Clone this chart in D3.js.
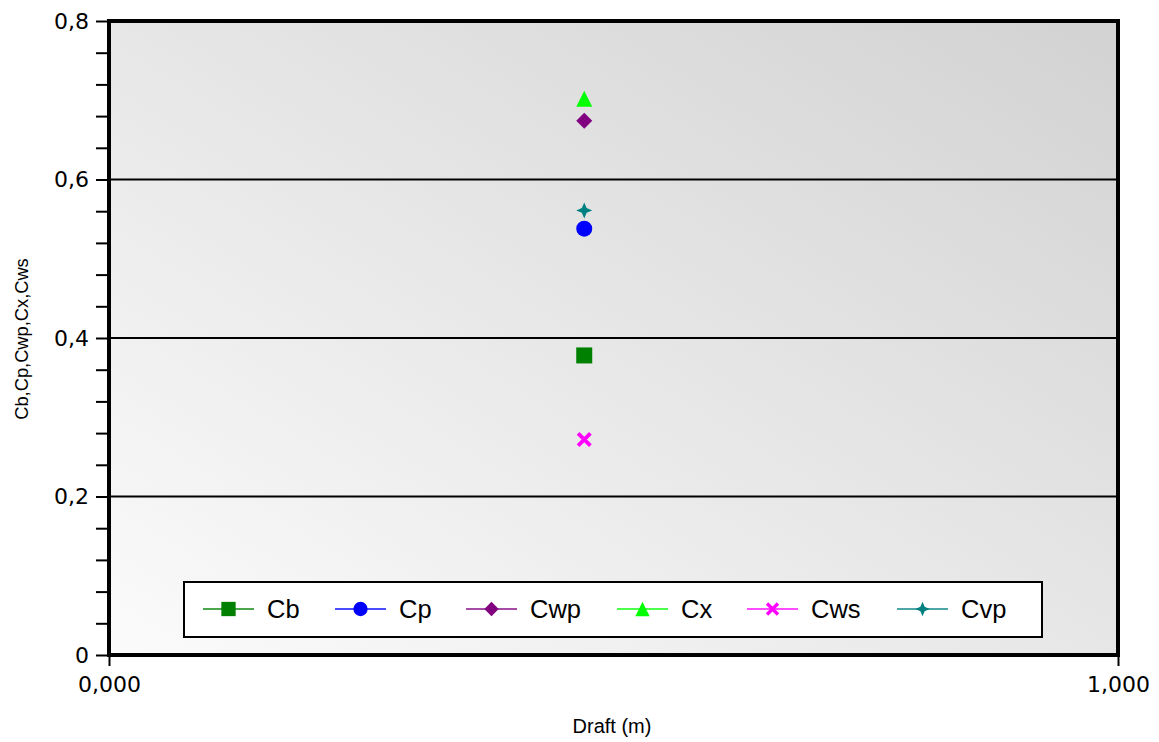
<!DOCTYPE html>
<html>
<head>
<meta charset="utf-8">
<script src="https://cdn.jsdelivr.net/npm/d3@7"></script>
<style>
  html, body { margin: 0; padding: 0; background: #ffffff; }
  svg { display: block; }
</style>
</head>
<body>
<svg id="chart" width="1159" height="742"></svg>
<script>
// Hull form coefficients at a single draft
const seriesNames = ["Cb", "Cp", "Cwp", "Cx", "Cws", "Cvp"];
const seriesColors = ["#008000", "#0000ff", "#800080", "#00ff00", "#ff00ff", "#008080"];
const draftValues = [0.471];
const cbValues  = [0.378];
const cpValues  = [0.538];
const cwpValues = [0.674];
const cxValues  = [0.702];
const cwsValues = [0.272];
const cvpValues = [0.561];
const yTickValues = [0, 0.2, 0.4, 0.6, 0.8];
const yTickLabels = ["0", "0,2", "0,4", "0,6", "0,8"];
const xTickValues = [0, 1];
const xTickLabels = ["0,000", "1,000"];
const xTitle = "Draft (m)";
const yTitle = "Cb,Cp,Cwp,Cx,Cws";

const seriesValues = [cbValues, cpValues, cwpValues, cxValues, cwsValues, cvpValues];

// Custom marker shapes
const diamondShape = { draw(ctx, size) { const r = Math.sqrt(size) / 2; ctx.moveTo(0, -r); ctx.lineTo(r, 0); ctx.lineTo(0, r); ctx.lineTo(-r, 0); ctx.closePath(); } };
const triangleShape = { draw(ctx, size) { const r = Math.sqrt(size) / 2; ctx.moveTo(0, -r); ctx.lineTo(r, r); ctx.lineTo(-r, r); ctx.closePath(); } };
const xShape = { draw(ctx, size) {
  const r = Math.sqrt(size) / 2, w = r * 0.36;
  const pts = [[-r + w, -r], [0, -w], [r - w, -r], [r, -r + w], [w, 0], [r, r - w], [r - w, r], [0, w], [-r + w, r], [-r, r - w], [-w, 0], [-r, -r + w]];
  ctx.moveTo(pts[0][0], pts[0][1]); for (let i = 1; i < pts.length; i++) ctx.lineTo(pts[i][0], pts[i][1]); ctx.closePath();
} };
const starShape = { draw(ctx, size) {
  const r = Math.sqrt(size) / 2, k = r * 0.3;
  ctx.moveTo(0, -r); ctx.lineTo(k, -k); ctx.lineTo(r, 0); ctx.lineTo(k, k); ctx.lineTo(0, r); ctx.lineTo(-k, k); ctx.lineTo(-r, 0); ctx.lineTo(-k, -k); ctx.closePath();
} };
const squareShape = { draw(ctx, size) { const r = Math.sqrt(size) / 2; ctx.rect(-r, -r, 2 * r, 2 * r); } };
const circleShape = { draw(ctx, size) { const r = Math.sqrt(size) / 2; ctx.moveTo(r, 0); ctx.arc(0, 0, r, 0, 2 * Math.PI); } };
const shapes = [squareShape, circleShape, diamondShape, triangleShape, xShape, starShape];
const markerSizes = [256, 256, 256, 256, 225, 256];

const svg = d3.select("#chart");
const plot = { left: 109, right: 1118, top: 21, bottom: 655 };

const x = d3.scaleLinear().domain([0, 1]).range([plot.left, plot.right]);
const y = d3.scaleLinear().domain([0, 0.8]).range([plot.bottom, plot.top]);

// Background gradient
const defs = svg.append("defs");
const grad = defs.append("linearGradient").attr("id", "bg")
  .attr("x1", "0%").attr("y1", "100%").attr("x2", "100%").attr("y2", "0%");
grad.append("stop").attr("offset", "0%").attr("stop-color", "#fbfbfb");
grad.append("stop").attr("offset", "100%").attr("stop-color", "#d2d2d2");

svg.append("rect")
  .attr("x", plot.left).attr("y", plot.top)
  .attr("width", plot.right - plot.left).attr("height", plot.bottom - plot.top)
  .attr("fill", "url(#bg)");

// Horizontal grid lines
svg.append("g").selectAll("line")
  .data(yTickValues.filter(v => v > 0 && v < 0.8))
  .join("line")
  .attr("x1", plot.left).attr("x2", plot.right)
  .attr("y1", d => y(d)).attr("y2", d => y(d))
  .attr("stroke", "#000").attr("stroke-width", 2);

// Y axis: major labels + minor ticks
const yMinor = d3.range(0, 0.8001, 0.04);
const yAxis = d3.axisLeft(y).tickValues(yMinor).tickSize(12)
  .tickFormat(d => {
    const i = yTickValues.findIndex(v => Math.abs(v - d) < 1e-6);
    return i >= 0 ? yTickLabels[i] : "";
  });
const gy = svg.append("g").attr("transform", `translate(${plot.left - 1},0)`).call(yAxis);
gy.select(".domain").remove();
gy.selectAll(".tick line").attr("stroke", "#000").attr("stroke-width", 2);
gy.selectAll(".tick text")
  .attr("x", -19)
  .attr("font-family", "DejaVu Sans, Verdana, sans-serif")
  .attr("font-size", 22).attr("fill", "#000");

// X axis
const xAxis = d3.axisBottom(x).tickValues(xTickValues).tickSize(10)
  .tickFormat((d, i) => xTickLabels[i]);
const gx = svg.append("g").attr("transform", `translate(0,${plot.bottom + 1})`).call(xAxis);
gx.select(".domain").remove();
gx.selectAll(".tick line").attr("stroke", "#000").attr("stroke-width", 2);
gx.selectAll(".tick text")
  .attr("y", 20)
  .attr("font-family", "DejaVu Sans, Verdana, sans-serif")
  .attr("font-size", 22).attr("fill", "#000");

// Plot frame
svg.append("rect")
  .attr("x", plot.left).attr("y", plot.top)
  .attr("width", plot.right - plot.left).attr("height", plot.bottom - plot.top)
  .attr("fill", "none").attr("stroke", "#000").attr("stroke-width", 4);

// Axis titles
svg.append("text")
  .attr("x", 612).attr("y", 733)
  .attr("text-anchor", "middle")
  .attr("font-family", "Liberation Sans, Arial, sans-serif").attr("font-size", 20)
  .text(xTitle);
svg.append("text")
  .attr("transform", `translate(28,339) rotate(-90)`)
  .attr("text-anchor", "middle")
  .attr("font-family", "Liberation Sans, Arial, sans-serif").attr("font-size", 18.3)
  .text(yTitle);

// Data markers
const points = seriesNames.map((name, i) => ({
  name, color: seriesColors[i], shape: shapes[i], size: markerSizes[i],
  draft: draftValues[0], value: seriesValues[i][0]
}));
svg.append("g").selectAll("path")
  .data(points)
  .join("path")
  .attr("transform", d => `translate(${x(d.draft)},${y(d.value)})`)
  .attr("d", d => d3.symbol().type(d.shape).size(d.size)())
  .attr("fill", d => d.color);

// Legend
const legend = { x: 184, y: 582, w: 858, h: 55 };
svg.append("rect")
  .attr("x", legend.x).attr("y", legend.y).attr("width", legend.w).attr("height", legend.h)
  .attr("fill", "#fff").attr("stroke", "#000").attr("stroke-width", 2);
const legendStarts = [203, 335, 466, 617, 747, 897];
const lg = svg.append("g").selectAll("g")
  .data(points)
  .join("g")
  .attr("transform", (d, i) => `translate(${legendStarts[i]},${legend.y + 27})`);
lg.append("line")
  .attr("x1", 0).attr("x2", 51).attr("y1", 0).attr("y2", 0)
  .attr("stroke", d => d.color).attr("stroke-opacity", 0.7).attr("stroke-width", 2);
lg.append("path")
  .attr("transform", "translate(25.5,0)")
  .attr("d", d => d3.symbol().type(d.shape).size(d.size * 0.8)())
  .attr("fill", d => d.color);
lg.append("text")
  .attr("x", 64).attr("y", 9)
  .attr("font-family", "Liberation Sans, Arial, sans-serif").attr("font-size", 25.5)
  .attr("fill", "#000")
  .text(d => d.name);
</script>
</body>
</html>
